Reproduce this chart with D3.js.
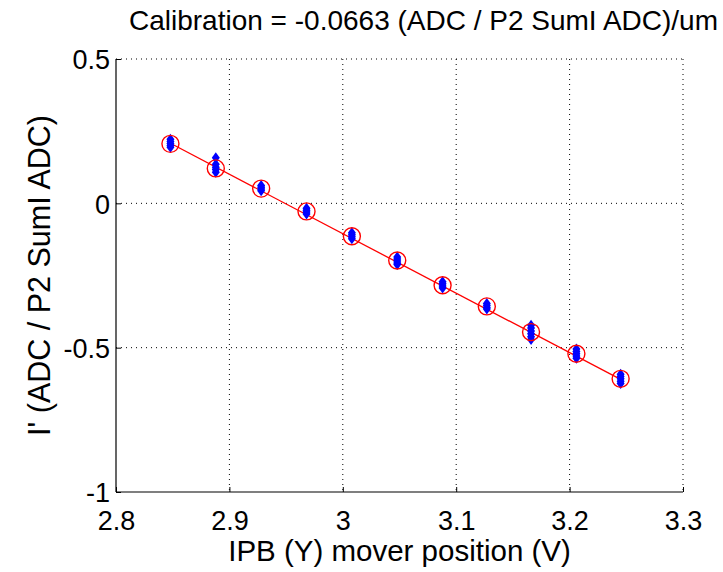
<!DOCTYPE html>
<html><head><meta charset="utf-8">
<script src="https://cdn.jsdelivr.net/npm/d3@7"></script>
<style>body{margin:0;background:#fff}svg{display:block}text{font-family:"Liberation Sans",Arial,sans-serif;fill:#000}</style>
</head><body><svg id="c" width="723" height="572"></svg>
<script>
const positions = [2.848, 2.888, 2.928, 2.968, 3.008, 3.048, 3.088, 3.127, 3.166, 3.206, 3.245];
const means = [0.206, 0.121, 0.051, -0.028, -0.114, -0.198, -0.284, -0.357, -0.446, -0.521, -0.608];
const samples = [
  [0.222, 0.214, 0.207, 0.200, 0.194],
  [0.158, 0.135, 0.125, 0.117, 0.108],
  [0.062, 0.056, 0.050, 0.044],
  [-0.017, -0.024, -0.030, -0.037],
  [-0.102, -0.109, -0.116, -0.123],
  [-0.186, -0.193, -0.200, -0.207, -0.212],
  [-0.272, -0.279, -0.286, -0.293],
  [-0.347, -0.354, -0.361, -0.366],
  [-0.422, -0.432, -0.442, -0.452, -0.462, -0.472],
  [-0.505, -0.513, -0.521, -0.529, -0.537],
  [-0.592, -0.600, -0.608, -0.616, -0.624]
];
const fitLine = [[2.848, 0.208], [3.245, -0.610]];
const xTicks = [2.8, 2.9, 3.0, 3.1, 3.2, 3.3];
const yTicks = [-1, -0.5, 0, 0.5];
const titleText = "Calibration = -0.0663 (ADC / P2 SumI ADC)/um";
const xLabel = "IPB (Y) mover position (V)";
const yLabel = "I' (ADC / P2 SumI ADC)";

const FS = "27px";
const svg = d3.select("#c");
const L = 116, R = 683, T = 59, B = 492;
const x = d3.scaleLinear().domain([2.8, 3.3]).range([L, R]);
const y = d3.scaleLinear().domain([-1, 0.5]).range([B, T]);

// grid
const g = svg.append("g");
g.selectAll(".gx").data(xTicks.slice(1)).join("line")
  .attr("x1", d => x(d)).attr("x2", d => x(d)).attr("y1", T).attr("y2", B)
  .attr("stroke", "#000").attr("stroke-width", 1).attr("stroke-dasharray", "1,4");
g.selectAll(".gy").data(yTicks.slice(1)).join("line")
  .attr("x1", L).attr("x2", R).attr("y1", d => y(d)).attr("y2", d => y(d))
  .attr("stroke", "#000").attr("stroke-width", 1).attr("stroke-dasharray", "1,4");

// axes
const xAxis = d3.axisBottom(x).tickValues(xTicks).tickSize(-5).tickFormat(d => String(+d.toFixed(1)));
const yAxis = d3.axisLeft(y).tickValues(yTicks).tickSize(-5).tickFormat(d => String(d));
const gx = svg.append("g").attr("transform", `translate(0,${B})`).call(xAxis);
const gy = svg.append("g").attr("transform", `translate(${L},0)`).call(yAxis);
[gx, gy].forEach(a => {
  a.select(".domain").attr("stroke", "#000").attr("stroke-width", 1.2);
  a.selectAll(".tick line").attr("stroke", "#000");
  a.selectAll("text").style("font-family", '"Liberation Sans",Arial,sans-serif').style("font-size", FS).attr("fill", "#000");
});
gx.select(".domain").attr("d", `M${L},0H${R}`);
gy.select(".domain").attr("d", `M0,${T}V${B}`);
gx.selectAll("text").attr("dy", "0").attr("y", 38);
gy.selectAll("text").attr("x", -6).attr("dy", "0.36em");

// fit line
svg.append("line")
  .attr("x1", x(fitLine[0][0])).attr("y1", y(fitLine[0][1]))
  .attr("x2", x(fitLine[1][0])).attr("y2", y(fitLine[1][1]))
  .attr("stroke", "#ff0000").attr("stroke-width", 1.3);

// raw samples
const pts = [];
positions.forEach((p, i) => samples[i].forEach(v => pts.push([p, v])));
svg.selectAll(".s").data(pts).join("path")
  .attr("transform", d => `translate(${x(d[0])},${y(d[1])})`)
  .attr("d", "M0,-5.5L4,0L0,5.5L-4,0Z")
  .attr("fill", "#0000ff");

// mean circles
svg.selectAll(".m").data(positions).join("circle")
  .attr("cx", d => x(d)).attr("cy", (d, i) => y(means[i])).attr("r", 8.5)
  .attr("fill", "none").attr("stroke", "#ff0000").attr("stroke-width", 1.4);

// labels
svg.append("text").attr("x", (L + R) / 2 + 24).attr("y", 30).attr("text-anchor", "middle")
  .style("font-size", "28px").text(titleText);
svg.append("text").attr("x", (L + R) / 2).attr("y", 561).attr("text-anchor", "middle")
  .style("font-size", "29.5px").text(xLabel);
svg.append("text").attr("transform", `translate(50,${(T + B) / 2}) rotate(-90)`).attr("text-anchor", "middle")
  .style("font-size", "30.5px").text(yLabel);
</script></body></html>
